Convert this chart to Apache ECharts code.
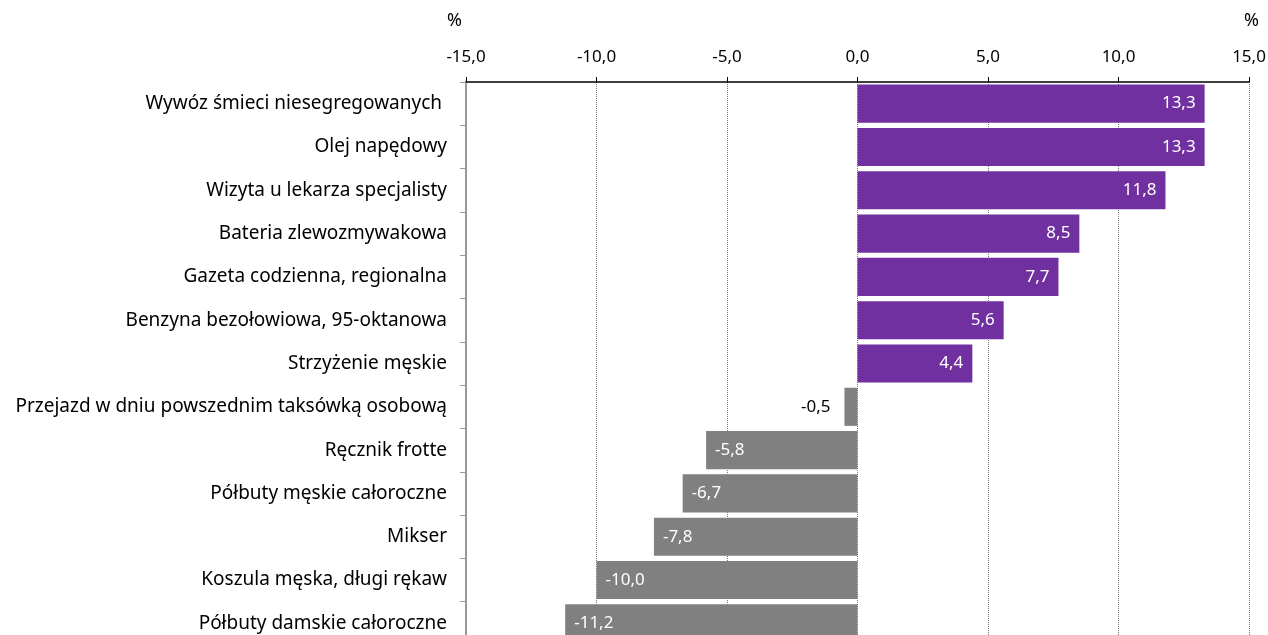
<!DOCTYPE html>
<html>
<head>
<meta charset="utf-8">
<script src="https://cdn.jsdelivr.net/npm/echarts@6/dist/echarts.min.js"></script>
<style>html,body{margin:0;padding:0;background:#fff}#c{width:1268px;height:635px}</style>
</head>
<body>
<div id="c"></div>
<script>
const categories = [
  "Wywóz śmieci niesegregowanych ",
  "Olej napędowy",
  "Wizyta u lekarza specjalisty",
  "Bateria zlewozmywakowa",
  "Gazeta codzienna, regionalna",
  "Benzyna bezołowiowa, 95-oktanowa",
  "Strzyżenie męskie",
  "Przejazd w dniu powszednim taksówką osobową",
  "Ręcznik frotte",
  "Półbuty męskie całoroczne",
  "Mikser",
  "Koszula męska, długi rękaw",
  "Półbuty damskie całoroczne"
];
const values = [13.3, 13.3, 11.8, 8.5, 7.7, 5.6, 4.4, -0.5, -5.8, -6.7, -7.8, -10.0, -11.2];
const axisMin = -15, axisMax = 15, axisStep = 5;
const unitLabel = "%";

const fmt = v => v.toFixed(1).replace('.', ',');
const FONT = "'Noto Sans',sans-serif";
const FS = 17;

const data = values.map(v => {
  const small = Math.abs(v) < 2;
  return {
    value: v,
    itemStyle: { color: v >= 0 ? '#7030A0' : '#808080' },
    label: {
      show: true,
      position: small ? 'left' : (v >= 0 ? 'insideRight' : 'insideLeft'),
      color: small ? '#000' : '#fff',
      distance: small ? 14 : 9,
      fontSize: FS,
      fontFamily: FONT,
      formatter: p => fmt(p.value)
    }
  };
});

const chart = echarts.init(document.getElementById('c'));
chart.setOption({
  animation: false,
  grid: { left: 466, right: 19, top: 82, height: 563, outerBoundsMode: 'none' },
  xAxis: {
    type: 'value', position: 'top',
    min: axisMin, max: axisMax, interval: axisStep,
    axisLine: { show: true, lineStyle: { color: '#000', width: 1.5 } },
    axisTick: { show: true, length: 5, lineStyle: { color: '#000' } },
    axisLabel: { fontSize: FS, color: '#000', margin: 16, fontFamily: FONT, formatter: v => fmt(v) },
    splitLine: { show: true, lineStyle: { color: '#777', type: [1, 1], width: 1 } }
  },
  yAxis: [{
    type: 'category', data: categories, inverse: true,
    axisLine: { show: false }, axisTick: { show: false },
    axisLabel: { fontSize: 19, color: '#000', margin: 19, fontFamily: FONT }
  }, {
    type: 'category', data: categories, inverse: true, position: 'left',
    axisLine: { show: true, onZero: true, lineStyle: { color: '#999', width: 2 } },
    axisTick: { show: true, length: 6, lineStyle: { color: '#999' } },
    axisLabel: { show: false }
  }],
  series: [{
    type: 'bar', data: data, yAxisIndex: 0, barCategoryGap: '12%', z: 1
  }],
  graphic: [
    { type: 'text', left: 447, top: 12, style: { text: unitLabel, fontSize: 18, fill: '#000', fontFamily: FONT } },
    { type: 'text', left: 1244, top: 12, style: { text: unitLabel, fontSize: 18, fill: '#000', fontFamily: FONT } }
  ]
});
</script>
</body>
</html>
